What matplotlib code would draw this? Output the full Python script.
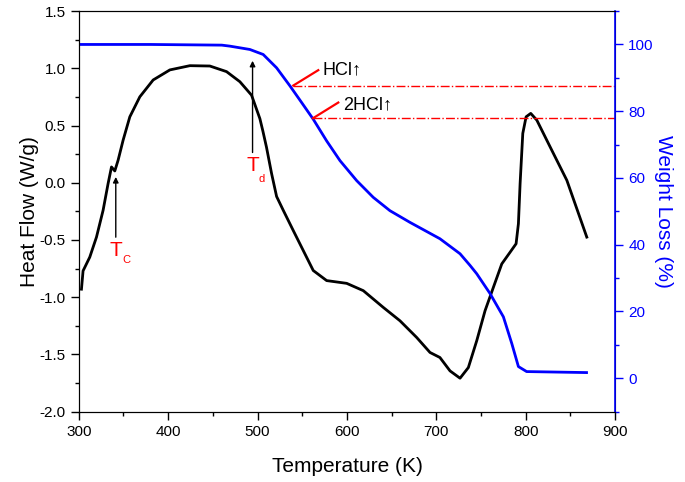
import matplotlib.pyplot as plt
from matplotlib.ticker import MultipleLocator

plt.rcParams['font.family'] = ['Liberation Sans', 'DejaVu Sans']

# Heat flow (DSC) curve
temp_hf = [303, 304.8, 312.3, 319.8, 327.2, 332.8, 336.6, 340.3, 344, 349.6, 357.1,
           368.3, 383.2, 401.9, 424.3, 446.6, 465.3, 480.2, 493.3, 502.6, 506,
           510, 515.7, 521.3, 528.7, 539.9, 551.1, 562.3, 577.3, 599.7,
           618.3, 640.6, 659.3, 678, 692.9, 704, 715.3, 726.5, 735.8, 745.2, 754.5,
           763.8, 773.2, 782.5, 789.2, 791.8, 793.7, 796.7, 800.4, 805.6, 812.4,
           827.3, 846, 868.3]
heat_flow = [-0.93, -0.77, -0.65, -0.475, -0.241, -0.007, 0.138, 0.103, 0.197, 0.372, 0.576,
             0.751, 0.898, 0.986, 1.023, 1.02, 0.971, 0.883, 0.765, 0.56, 0.45,
             0.31, 0.08, -0.12, -0.24, -0.417, -0.592, -0.767, -0.855, -0.879,
             -0.943, -1.089, -1.206, -1.352, -1.483, -1.527, -1.644, -1.708, -1.615, -1.38, -1.118,
             -0.914, -0.709, -0.607, -0.533, -0.358, -0.007, 0.431, 0.576, 0.606, 0.547,
             0.313, 0.021, -0.475]

# Weight loss (TGA) curve
temp_wl = [302, 380, 460, 469, 491.4, 506.3, 521.3, 536.2, 549.3, 562.3, 577.3, 592.2,
           610.9, 629.4, 648.1, 670.5, 704, 726.5, 737.7, 745.2, 760, 775, 784.4,
           791.8, 801, 868]
weight = [100, 100, 99.8, 99.5, 98.5, 97.0, 93.0, 87.6, 82.6, 77.6, 71.1, 65.2,
          59.2, 54.2, 50.2, 46.7, 41.8, 37.3, 33.8, 31.3, 25.4, 18.4, 10.4,
          3.5, 2.0, 1.7]

# HCl release levels
hcl_levels = [87.7, 77.9]
hcl_start = [540, 562]
hcl_labels = ['HCl\u2191', '2HCl\u2191']

fig = plt.figure(figsize=(6.85, 4.82), dpi=100)
ax = fig.add_axes([0.115, 0.146, 0.783, 0.831])
ax2 = ax.twinx()

ax.plot(temp_hf, heat_flow, color='black', lw=2)
ax2.plot(temp_wl, weight, color='blue', lw=2)

ax.set_xlim(300, 900)
ax.set_ylim(-2.0, 1.5)
ax2.set_ylim(-10, 110)

ax.xaxis.set_major_locator(MultipleLocator(100))
ax.xaxis.set_minor_locator(MultipleLocator(50))
ax.yaxis.set_major_locator(MultipleLocator(0.5))
ax.yaxis.set_minor_locator(MultipleLocator(0.25))
ax.yaxis.set_major_formatter(plt.FormatStrFormatter('%.1f'))
ax2.yaxis.set_major_locator(MultipleLocator(20))
ax2.yaxis.set_minor_locator(MultipleLocator(10))

ax.tick_params(which='major', direction='out', length=6, width=1, labelsize=11)
ax.tick_params(which='minor', direction='out', length=3, width=1)
ax2.tick_params(which='major', direction='out', length=6, width=1, labelsize=11,
                colors='blue')
ax2.tick_params(which='minor', direction='out', length=3, width=1, colors='blue')
ax2.spines['right'].set_color('blue')
ax2.spines['right'].set_linewidth(1.2)

ax.set_xlabel('Temperature (K)', fontsize=15, labelpad=13)
ax.set_ylabel('Heat Flow (W/g)', fontsize=15, labelpad=0)
ax2.set_ylabel('Weight Loss (%)', fontsize=15, color='blue', rotation=270, labelpad=14)

# Tc and Td arrows
ax.annotate('', xy=(341.4, 0.075), xytext=(341.4, -0.50),
            arrowprops=dict(arrowstyle='-|>', color='black', lw=1, mutation_scale=8))
ax.text(341.2, -0.589, 'T', color='red', fontsize=15, ha='center', va='center')
ax.text(353.4, -0.675, 'C', color='red', fontsize=8, ha='center', va='center')
ax.annotate('', xy=(494.4, 1.09), xytext=(494.4, 0.24),
            arrowprops=dict(arrowstyle='-|>', color='black', lw=1, mutation_scale=8))
ax.text(494.2, 0.153, 'T', color='red', fontsize=15, ha='center', va='center')
ax.text(504.9, 0.036, 'd', color='red', fontsize=8, ha='center', va='center')

# HCl markers
ptr_start = [(567.9, 92.3), (590.3, 82.6)]
text_pos = [(573, 92.5), (595.5, 82.0)]
for lvl, x0, lab, (px, py), (tx, ty) in zip(hcl_levels, hcl_start, hcl_labels,
                                             ptr_start, text_pos):
    ax2.plot([x0, 900], [lvl, lvl], color='red', lw=1, ls='-.')
    ax2.plot([px, x0], [py, lvl], color='red', lw=1.6)
    ax2.text(tx, ty, lab, fontsize=13, ha='left', va='center',
             family=['Liberation Sans', 'DejaVu Sans'])

fig.savefig('out.png', dpi=100)
